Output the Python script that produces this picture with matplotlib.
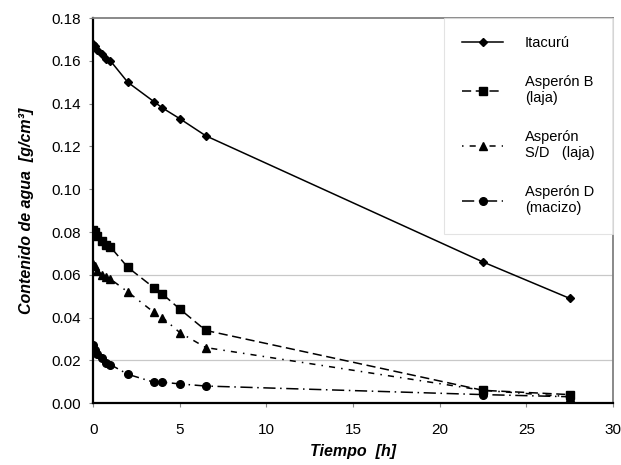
import matplotlib.pyplot as plt
import numpy as np

plt.rcParams['font.family'] = ['Liberation Sans', 'DejaVu Sans']

# time [h]
tiempo = [0, 0.1, 0.25, 0.5, 0.75, 1.0, 2, 3.5, 4, 5, 6.5, 22.5, 27.5]

itacuru = [0.168, 0.167, 0.165, 0.163, 0.161, 0.160, 0.150, 0.141, 0.138, 0.133, 0.125, 0.066, 0.049]
asperon_b = [0.081, 0.080, 0.078, 0.076, 0.074, 0.073, 0.0635, 0.054, 0.051, 0.044, 0.034, 0.006, 0.004]
asperon_sd = [0.065, 0.064, 0.062, 0.060, 0.059, 0.058, 0.052, 0.0425, 0.040, 0.033, 0.026, 0.006, 0.003]
asperon_d = [0.027, 0.025, 0.023, 0.021, 0.019, 0.018, 0.0135, 0.0098, 0.0098, 0.009, 0.008, 0.004, 0.003]

labels = ["Itacurú", "Asperón B\n(laja)", "Asperón\nS/D   (laja)", "Asperón D\n(macizo)"]

fig = plt.figure(figsize=(6.21, 4.65), dpi=100)
ax = fig.add_axes([0.150, 0.133, 0.837, 0.828])

ax.plot(tiempo, itacuru, color='black', lw=1.1, ls='-', marker='D', ms=4, label=labels[0])
ax.plot(tiempo, asperon_b, color='black', lw=1.1, ls=(0, (6, 3)), marker='s', ms=5.5, label=labels[1])
ax.plot(tiempo, asperon_sd, color='black', lw=1.1, ls=(0, (1, 4, 4, 4)), marker='^', ms=6, label=labels[2])
ax.plot(tiempo, asperon_d, color='black', lw=1.1, ls=(0, (8, 3, 1, 3)), marker='o', ms=5.5, label=labels[3])

# only some light horizontal gridlines are visible
for yv in [0.02, 0.06]:
    ax.axhline(yv, color='#c8c8c8', lw=0.9, zorder=0)

ax.set_xlim(0, 30)
ax.set_ylim(0, 0.18)
ax.set_xticks(np.arange(0, 31, 5))
ax.set_yticks(np.arange(0, 0.181, 0.02))
ax.yaxis.set_major_formatter(plt.FormatStrFormatter('%.2f'))
ax.tick_params(labelsize=11, direction='out', length=3, color='#888888')
ax.tick_params(axis='x', pad=11)
ax.tick_params(axis='y', pad=6)

ax.spines['left'].set_linewidth(1.6)
ax.spines['bottom'].set_linewidth(1.6)
ax.spines['top'].set_color('#808080')
ax.spines['right'].set_color('#808080')
ax.spines['top'].set_linewidth(1.3)
ax.spines['right'].set_linewidth(1.3)

ax.set_xlabel('Tiempo  [h]', fontsize=11.5, style='italic', fontweight='bold', labelpad=5)
ax.set_ylabel('Contenido de agua  [g/cm³]', fontsize=11.5, style='italic', fontweight='bold', labelpad=12)

leg = ax.legend(loc='upper right', bbox_to_anchor=(1.0, 1.0), fontsize=10.5, frameon=True,
                fancybox=False, edgecolor='#dddddd', handlelength=2.8, labelspacing=1.7,
                borderpad=1.25, handletextpad=1.5, borderaxespad=0.0)
leg.get_frame().set_linewidth(0.8)

fig.savefig('out.png', dpi=100)
